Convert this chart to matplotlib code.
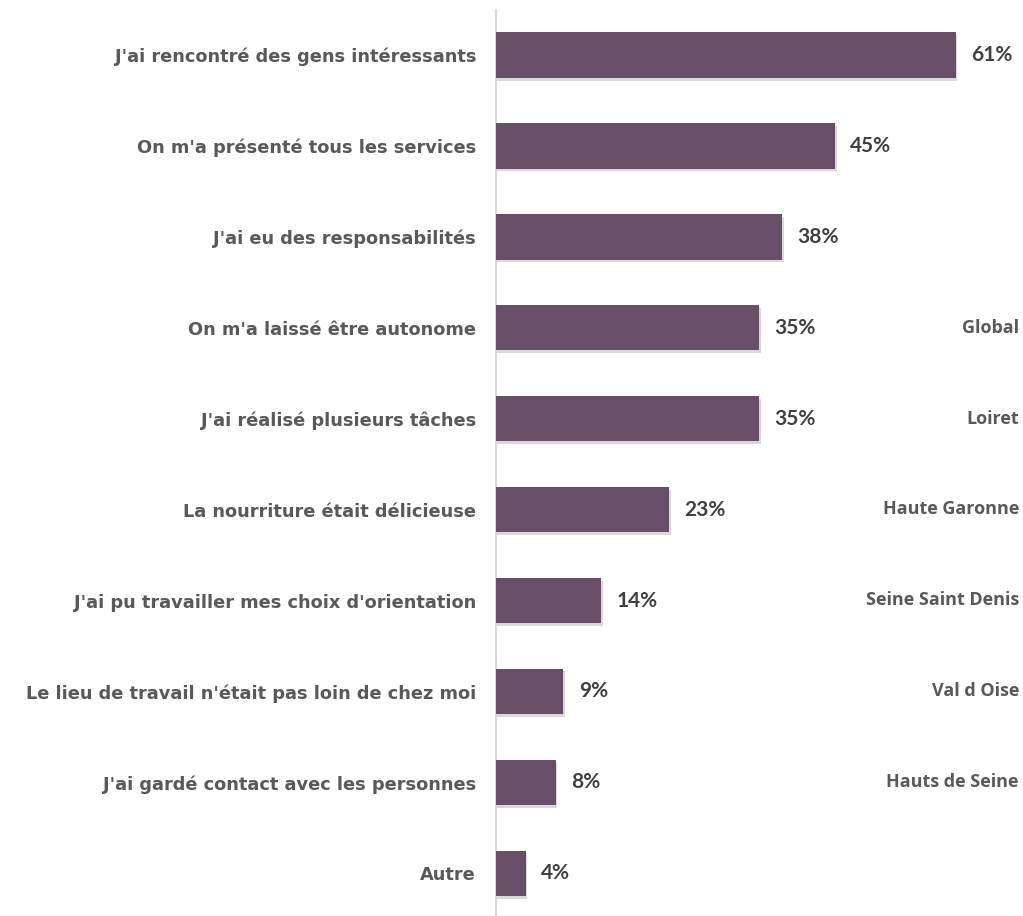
import matplotlib.pyplot as plt
import matplotlib.patheffects as pe

# data
labels = [
    "J'ai rencontré des gens intéressants",
    "On m'a présenté tous les services",
    "J'ai eu des responsabilités",
    "On m'a laissé être autonome",
    "J'ai réalisé plusieurs tâches",
    "La nourriture était délicieuse",
    "J'ai pu travailler mes choix d'orientation",
    "Le lieu de travail n'était pas loin de chez moi",
    "J'ai gardé contact avec les personnes",
    "Autre",
]
values = [61, 45, 38, 35, 35, 23, 14, 9, 8, 4]

# labels of the neighbouring chart (cut by the edge in the original)
side_labels = ["Global", "Loiret", "Haute Garonne", "Seine Saint Denis", "Val d Oise", "Hauts de Seine"]
side_rows = [3, 4, 5, 6, 7, 8]

W, H = 1023, 916
fig = plt.figure(figsize=(W / 100, H / 100), dpi=100)
ax = fig.add_axes([495.5 / W, 0, (W - 495.5) / W, 1 - 10 / H])

bar_color = '#684f67'
ypos = list(range(len(values)))
bars = ax.barh(ypos, values, height=0.5, color=bar_color, zorder=3)
for b in bars:
    b.set_path_effects([pe.SimplePatchShadow(offset=(1.2, -2), shadow_rgbFace='#000000', alpha=0.15),
                        pe.Normal()])

ax.set_xlim(0, (W - 497) / 7.52)
ax.set_ylim(9.47, -0.495)

for y, v in zip(ypos, values):
    ax.annotate(f"{v}%", (v, y), xytext=(11, 0), textcoords='offset points',
                ha='left', va='center', fontsize=15, fontweight='bold',
                family='Lato', color='#404040')

ax.set_yticks(ypos)
ax.set_yticklabels(labels, fontsize=12.8, fontweight='bold', color='#595959', family='DejaVu Sans')
ax.tick_params(axis='y', length=0, pad=14)
ax.set_xticks([])

for s in ['top', 'right', 'bottom']:
    ax.spines[s].set_visible(False)
ax.spines['left'].set_color('#d9d9d9')
ax.spines['left'].set_linewidth(1.5)

# side labels, kept inside the figure edge
for txt, r in zip(side_labels, side_rows):
    yc = 55 + r * 90.9
    fig.text(1019 / W, 1 - yc / H, txt, ha='right', va='center', fontsize=13,
             fontweight='bold', family='Open Sans', color='#595959')

fig.savefig('out.png', dpi=100)
